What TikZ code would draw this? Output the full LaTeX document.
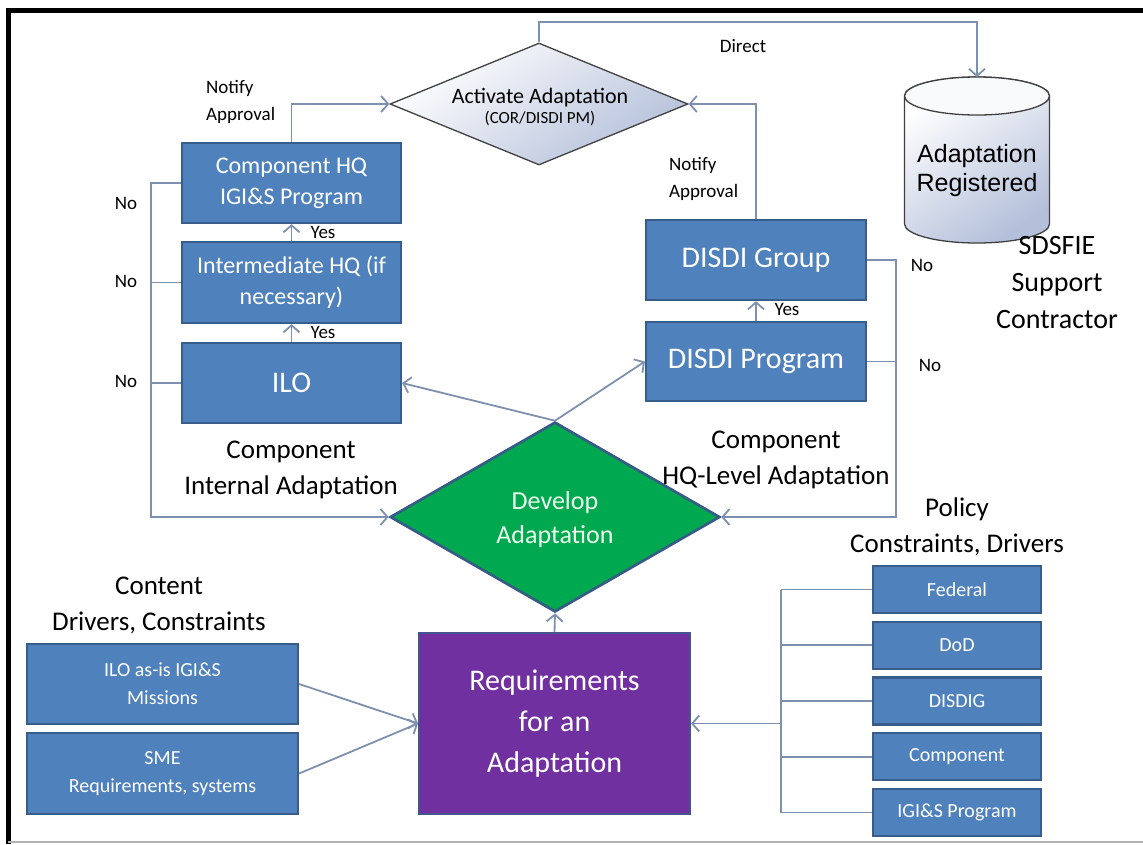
\documentclass[tikz,border=0pt]{standalone}
\usepackage{fontspec}
\setmainfont{Carlito}
\newfontfamily\cylfont{Liberation Sans}
\usetikzlibrary{shapes.geometric,arrows.meta}
\definecolor{boxblue}{RGB}{79,129,189}
\definecolor{boxedge}{RGB}{56,93,138}
\definecolor{linkgray}{RGB}{125,145,175}
\definecolor{devgreen}{RGB}{0,168,80}
\definecolor{diaedge}{RGB}{55,90,135}
\definecolor{reqpurple}{RGB}{112,48,160}
\definecolor{cylblue}{RGB}{180,192,218}
\tikzset{
  bluebox/.style={draw=boxedge, fill=boxblue, line width=2.2pt, text=white,
    align=center, inner sep=0pt},
  link/.style={draw=linkgray, line width=1.8pt},
  arrow/.style={link, -{Straight Barb[length=7pt,width=16pt]}},
  lbl/.style={font=\fontsize{19pt}{27pt}\selectfont, inner sep=0pt},
  heading/.style={font=\fontsize{27pt}{36pt}\selectfont, align=center, inner sep=0pt}
}
\begin{document}
\begin{tikzpicture}[x=1pt,y=-1pt]
\useasboundingbox (0,0) rectangle (1143,844);
\draw [line width=5pt] (8,844) -- (8,10) -- (1143,10);
\draw [gray!60, line width=1.5pt] (8,842) -- (1143,842);
% left column
\node [bluebox, minimum width=219pt, minimum height=80pt,
  font=\fontsize{24pt}{31pt}\selectfont] (comphq) at (291.5,183) {Component HQ\\IGI\&S Program};
\node [bluebox, minimum width=219pt, minimum height=81pt,
  font=\fontsize{24pt}{31pt}\selectfont] (inter) at (291.5,282.5) {Intermediate HQ (if\\necessary)};
\node [bluebox, minimum width=219pt, minimum height=80pt,
  font=\fontsize{30pt}{36pt}\selectfont] (ilo) at (291.5,383) {ILO};
% right column
\node [bluebox, minimum width=220pt, minimum height=80pt,
  font=\fontsize{30pt}{36pt}\selectfont] (disgrp) at (756,260) {DISDI Group};
\node [bluebox, minimum width=220pt, minimum height=79pt,
  font=\fontsize{30pt}{36pt}\selectfont] (disprog) at (756,361.5) {DISDI Program};
% decisions
\node [diamond, draw=black!75, line width=1.3pt, minimum width=298pt, minimum height=122pt,
  inner sep=0pt, top color=white, bottom color=cylblue, shading angle=35] (act) at (539,104) {};
\node [align=center, inner sep=0pt] (acttxt) at (540,107)
  {\fontsize{22pt}{26pt}\selectfont Activate Adaptation\\[3pt]\fontsize{17pt}{20pt}\selectfont (COR/DISDI PM)};
\node [diamond, draw=diaedge, fill=devgreen, line width=2.6pt, minimum width=330pt,
  minimum height=190pt, inner sep=0pt, text=white!92!green, align=center,
  font=\fontsize{26pt}{34pt}\selectfont] (dev) at (555,517) {\\[-10pt]Develop\\Adaptation};
% requirements and drivers
\node [draw=boxedge!80!reqpurple, fill=reqpurple, line width=2pt, text=white, align=center,
  inner sep=0pt, minimum width=271pt, minimum height=181pt,
  font=\fontsize{30pt}{41pt}\selectfont] (req) at (554.5,723.5) {Requirements\\for an\\Adaptation};
\node [bluebox, minimum width=271pt, minimum height=80pt,
  font=\fontsize{20pt}{28pt}\selectfont] (ilois) at (162.5,684) {ILO as-is IGI\&S\\Missions};
\node [bluebox, minimum width=271pt, minimum height=81pt,
  font=\fontsize{20pt}{28pt}\selectfont] (sme) at (162.5,773.5) {SME\\Requirements, systems};
\foreach \txt [count=\i] in {Federal,DoD,DISDIG,Component,IGI\&S Program}
  \node [bluebox, minimum width=168pt, minimum height=47pt,
    font=\fontsize{20pt}{24pt}\selectfont] (pol\i) at (957,533.75+55.75*\i) {\txt};
% registry cylinder
\draw [draw=black!75, line width=1.3pt, top color=white, bottom color=cylblue, shading angle=35]
  (904.5,96) -- (904.5,224) arc [start angle=180, end angle=360, x radius=72.5pt, y radius=19pt]
  -- (1049.5,96) arc [start angle=0, end angle=180, x radius=72.5pt, y radius=19pt] -- cycle;
\draw [draw=black!75, line width=1.3pt, fill=white!92!cylblue] (977,96) ellipse [x radius=72.5pt, y radius=19pt];
\coordinate (cyltop) at (977,77);
\node [font=\cylfont\fontsize{25pt}{29pt}\selectfont, align=center, inner sep=0pt] (regtxt) at (977,171)
  {Adaptation\\Registered};
% connectors
\draw [arrow] (act.north) -- ++(0,-20) -| (cyltop);
\draw [arrow] (comphq.north) |- (act.west);
\draw [arrow] (disgrp.north) |- (act.east);
\draw [arrow] (inter.north) -- (comphq.south);
\draw [arrow] (ilo.north) -- (inter.south);
\draw [arrow] (disprog.north) -- (disgrp.south);
\draw [arrow] (comphq.west) -- ++(-30,0) |- (dev.west);
\draw [link] (inter.west) -- ++(-30,0);
\draw [link] (ilo.west) -- ++(-30,0);
\draw [arrow] (disgrp.east) -- ++(29,0) |- (dev.east);
\draw [link] (disprog.east) -- ++(29,0);
\draw [arrow] (dev.north) -- (ilo.east);
\draw [arrow] (dev.north) -- (disprog.west);
\draw [arrow] (req.north) -- (dev.south);
\draw [arrow] (ilois.east) -- (req.west);
\draw [arrow] (sme.east) -- (req.west);
\coordinate (bus) at (781,723.5);
\draw [arrow] (bus) -- (req.east);
\draw [link] (pol1.west -| bus) -- (pol5.west -| bus);
\foreach \i in {1,...,5}
  \draw [link] (pol\i.west) -- (pol\i.west -| bus);
% labels
\node [lbl] (direct) at (743,46) {Direct};
\node [lbl, anchor=west, align=left] (notifyl) at (206,102) {Notify\\Approval};
\node [lbl, anchor=west, align=left] (notifyr) at (669,179) {Notify\\Approval};
\node [lbl] (no1) at (126,203) {No};
\node [lbl] (no2) at (126,281) {No};
\node [lbl] (no3) at (126,381) {No};
\node [lbl] (no4) at (922,265) {No};
\node [lbl] (no5) at (930,365) {No};
\node [lbl] (yes1) at (323,232) {Yes};
\node [lbl] (yes2) at (323,332) {Yes};
\node [lbl] (yes3) at (787,309) {Yes};
\node [heading] (internal) at (291,470) {Component\\Internal Adaptation};
\node [heading] (hqlevel) at (776,460) {Component\\HQ-Level Adaptation};
\node [heading] (policy) at (957,527) {Policy\\Constraints, Drivers};
\node [heading] (content) at (159,605) {Content\\Drivers, Constraints};
\node [heading, font=\fontsize{28pt}{37pt}\selectfont] (sdsfie) at (1057,283) {SDSFIE\\Support\\Contractor};
\end{tikzpicture}
\end{document}
